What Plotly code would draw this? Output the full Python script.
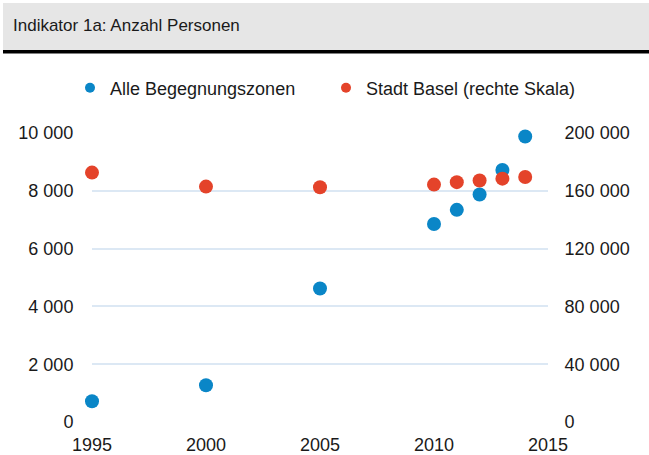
import plotly.graph_objects as go

# data
years = [1995, 2000, 2005, 2010, 2011, 2012, 2013, 2014]
begegnungszonen = [720, 1270, 4620, 6850, 7340, 7870, 8720, 9880]
stadt_basel = [172600, 162900, 162500, 164300, 166000, 167100, 168400, 169600]

left_ticks = [0, 2000, 4000, 6000, 8000, 10000]
right_ticks = [0, 40000, 80000, 120000, 160000, 200000]

BLUE = "#0a86c7"
RED = "#e4432a"
GRID = "#dce8f4"
FONT = "Liberation Sans, Arial, sans-serif"

W, H = 649, 455
ML, MR, MT, MB = 92, 101, 133, 33


def fmt(v):
    return f"{v:,}".replace(",", " ")


def px_x(px):
    return (px - ML) / (W - ML - MR)


def px_y(py):
    return (H - MB - py) / (H - MB - MT)


fig = go.Figure()
fig.add_trace(go.Scatter(
    x=years, y=begegnungszonen, mode="markers", showlegend=False,
    marker=dict(color=BLUE, size=14), cliponaxis=False,
))
fig.add_trace(go.Scatter(
    x=years, y=stadt_basel, mode="markers", showlegend=False, yaxis="y2",
    marker=dict(color=RED, size=14), cliponaxis=False,
))
# legend entries (smaller dots than the markers), one legend each so they sit on one row
fig.add_trace(go.Scatter(x=[None], y=[None], mode="markers", name="Alle Begegnungszonen",
                         marker=dict(color=BLUE, size=10), legend="legend"))
fig.add_trace(go.Scatter(x=[None], y=[None], mode="markers", name="Stadt Basel (rechte Skala)",
                         marker=dict(color=RED, size=10), legend="legend2"))

legend_style = dict(orientation="h", yanchor="middle", y=px_y(88), xanchor="left",
                    font=dict(size=18), itemwidth=30, bgcolor="rgba(0,0,0,0)")

fig.update_layout(
    width=W, height=H,
    margin=dict(l=ML, r=MR, t=MT, b=MB, autoexpand=False),
    paper_bgcolor="white", plot_bgcolor="white",
    font=dict(family=FONT, size=18, color="#1a1a1a"),
    xaxis=dict(
        range=[1995, 2015], tickvals=[1995, 2000, 2005, 2010, 2015],
        showgrid=False, zeroline=False, showline=False,
        ticks="outside", ticklen=6, tickcolor="rgba(0,0,0,0)",
    ),
    yaxis=dict(
        range=[0, 10000], tickvals=left_ticks, ticktext=[fmt(v) for v in left_ticks],
        gridcolor=GRID, gridwidth=1.5, zeroline=False, showline=False,
        ticks="outside", ticklen=14, tickcolor="rgba(0,0,0,0)",
    ),
    yaxis2=dict(
        range=[0, 200000], tickvals=right_ticks, ticktext=[fmt(v) for v in right_ticks],
        overlaying="y", side="right", showgrid=False, zeroline=False, showline=False,
        ticks="outside", ticklen=12, tickcolor="rgba(0,0,0,0)",
    ),
    legend=dict(legend_style, x=px_x(70)),
    legend2=dict(legend_style, x=px_x(326)),
    shapes=[
        dict(type="rect", xref="paper", yref="paper", layer="below",
             x0=px_x(3), x1=px_x(W + 5), y0=px_y(3), y1=px_y(51),
             fillcolor="#e6e6e6", line=dict(width=0)),
        dict(type="rect", xref="paper", yref="paper",
             x0=px_x(3), x1=px_x(W + 5), y0=px_y(50), y1=px_y(53.5),
             fillcolor="black", line=dict(width=0)),
    ],
    annotations=[
        dict(text="Indikator 1a: Anzahl Personen", xref="paper", yref="paper",
             x=px_x(11), y=px_y(25), xanchor="left", yanchor="middle",
             showarrow=False, font=dict(size=17, color="#1a1a1a")),
    ],
)

# drop the page's default body margin so the figure starts at the window corner
fig.write_html("out.html", config={"displayModeBar": False},
               post_script="document.body.style.margin = '0';")
